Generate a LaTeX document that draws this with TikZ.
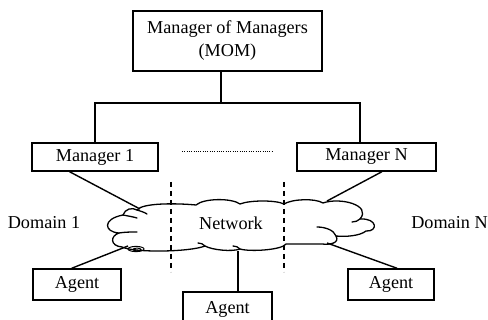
\documentclass[tikz,border=0pt]{standalone}
\usepackage{fontspec}
\setmainfont{Liberation Serif}
\usetikzlibrary{calc}
\begin{document}
\begin{tikzpicture}[x=1pt,y=-1pt,
  every node/.style={font=\fontsize{18.2}{23}\selectfont},
  box/.style={draw,line width=1.4pt,rectangle,inner sep=0pt,align=center},
  link/.style={line width=1.4pt},
  cloudline/.style={line width=1.3pt,line join=round,line cap=round},
  divider/.style={line width=1.4pt,dash pattern=on 5pt off 4pt},
  label/.style={inner sep=0pt}]
\useasboundingbox (0,0) rectangle (488,320);
\clip (0,0) rectangle (488,320);

% management hierarchy
\node[box,minimum width=189pt,minimum height=60pt] (mom) at (227.5,41) {Manager of Managers\\(MOM)};
\node[box,minimum width=126pt,minimum height=28pt] (m1) at (95,157) {Manager 1};
\node[box,minimum width=139pt,minimum height=28pt] (mn) at (366.5,157) {Manager N};

% agents
\node[box,minimum width=88pt,minimum height=31pt] (a1) at (77,284.5) {Agent};
\node[box,minimum width=86pt,minimum height=31pt] (a3) at (391,284.5) {Agent};
\node[box,minimum width=89pt,minimum height=34pt] (a2) at (227.5,309) {Agent};

% tree from the MOM down to the domain managers
\coordinate (mombot) at (221,71);
\coordinate (bus) at (221,103);
\coordinate (busl) at (95,103);
\coordinate (busr) at (360,103);
\draw[link] (mombot) -- (bus);
\draw[link] (m1.north) -- (busl) -- (busr) -- (mn.north -| busr);

% ellipsis between the managers
\coordinate (dotl) at (182,152);
\coordinate (dotr) at (273,152);
\draw[line width=1pt,dash pattern=on 1pt off 1.3pt] (dotl) -- (dotr);

% network cloud
\draw[cloudline,fill=white]
  (137,210) .. controls (142,203) and (175,203) .. (196,205)
  .. controls (204,198) and (232,198) .. (240,204)
  .. controls (250,200) and (276,200) .. (284,204)
  .. controls (292,199) and (315,198) .. (323,203)
  .. controls (340,197) and (372,205) .. (360,219)
  .. controls (378,218) and (378,232) .. (366,231)
  .. controls (360,236) and (345,237) .. (336,236)
  .. controls (340,243) and (330,245) .. (322,244)
  -- (286,244)
  .. controls (282,250) and (250,252) .. (240,249)
  .. controls (232,252) and (212,250) .. (205,246)
  .. controls (190,252) and (135,253) .. (122,247)
  .. controls (110,246) and (110,236) .. (119,233)
  .. controls (104,232) and (102,219) .. (123,215)
  .. controls (125,209) and (132,207) .. (137,210);
% inner curls of the cloud lobes
\draw[cloudline] (137,210) .. controls (140,211) and (144,212) .. (147,214);
\draw[cloudline] (123,215) .. controls (128,216) and (134,217) .. (137,218);
\draw[cloudline] (119,233) .. controls (125,232) and (131,232) .. (137,232);
\draw[cloudline] (360,219) .. controls (358,221) and (355,222) .. (352,222);
\draw[cloudline] (336,236) .. controls (334,230) and (325,227) .. (317,227);
\draw[cloudline] (205,246) .. controls (203,244) and (201,243) .. (198,243);
\draw[cloudline] (240,249) .. controls (238,247) and (236,246) .. (233,246);
% small coil on the lower left lobe
\draw[line width=1pt] (136,249) ellipse (8pt and 2.6pt);
\draw[line width=1pt] (137,249.5) ellipse (4pt and 1.4pt);

\node[label] (net) at (231,223) {Network};
\node[label] (d1) at (44,223) {Domain 1};
\node[label] (dn) at (449.5,223) {Domain N};

% domain boundaries
\coordinate (div1t) at (171,182);
\coordinate (div1b) at (171,272);
\coordinate (div2t) at (284,182);
\coordinate (div2b) at (284,272);
\draw[divider] (div1t) -- (div1b);
\draw[divider] (div2t) -- (div2b);

% links into the cloud
\coordinate (c1) at (140,209);
\coordinate (cn) at (327,201);
\coordinate (ca1) at (128,246);
\coordinate (ca2) at (238,251);
\coordinate (ca3) at (327,243);
\draw[link] ($(m1.south west)!0.30!(m1.south east)$) -- (c1);
\draw[link] ($(mn.south west)!0.61!(mn.south east)$) -- (cn);
\draw[link] ($(a1.north west)!0.44!(a1.north east)$) -- (ca1);
\draw[link] (ca2) -- (ca2 |- a2.north);
\draw[link] ($(a3.north west)!0.57!(a3.north east)$) -- (ca3);
\end{tikzpicture}
\end{document}
